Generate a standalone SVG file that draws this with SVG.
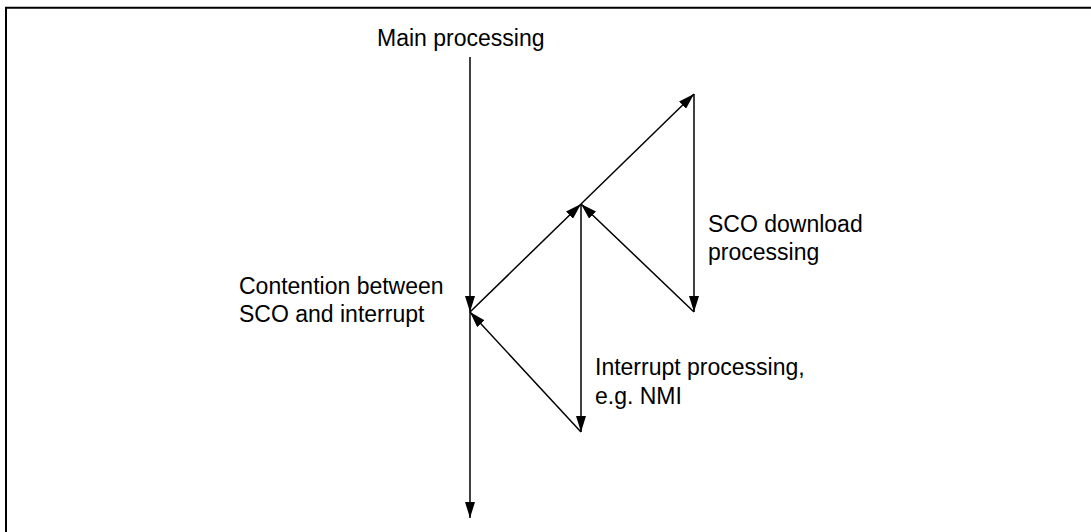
<svg xmlns="http://www.w3.org/2000/svg" width="1091" height="532" viewBox="0 0 1091 532">
  <style>
    .lbl { font-family: "Liberation Sans", Arial, sans-serif; font-size: 23px; fill: #000; }
    .ln { stroke: #000; stroke-width: 1.5; fill: none; marker-end: url(#ah); }
    .frame { stroke: #000; stroke-width: 2; fill: none; }
  </style>
  <defs>
    <marker id="ah" markerUnits="userSpaceOnUse" markerWidth="17" markerHeight="10" refX="16" refY="5" orient="auto">
      <path d="M0,0 L16,5 L0,10 z" fill="#000"/>
    </marker>
  </defs>
  <rect width="1091" height="532" fill="#fff"/>
  <path class="frame" d="M6,532 V7.7 H1091"/>

  <g id="main-processing">
    <text class="lbl" x="377" y="46">Main processing</text>
  </g>
  <g id="contention">
    <text class="lbl" x="239" y="294">Contention between</text>
    <text class="lbl" x="239" y="322">SCO and interrupt</text>
  </g>
  <g id="sco-download">
    <text class="lbl" x="708" y="232">SCO download</text>
    <text class="lbl" x="708" y="260">processing</text>
  </g>
  <g id="interrupt-processing">
    <text class="lbl" x="595" y="375">Interrupt processing,</text>
    <text class="lbl" x="595" y="404">e.g. NMI</text>
  </g>

  <g id="connectors">
    <line class="ln" x1="470" y1="57" x2="470" y2="312"/>
    <line class="ln" x1="470" y1="312" x2="470" y2="518"/>
    <line class="ln" x1="470" y1="312" x2="581" y2="204"/>
    <line class="ln" x1="581" y1="204" x2="694" y2="94"/>
    <line class="ln" x1="694" y1="94" x2="694" y2="312"/>
    <line class="ln" x1="694" y1="312" x2="581" y2="204"/>
    <line class="ln" x1="581" y1="204" x2="581" y2="432"/>
    <line class="ln" x1="581" y1="432" x2="470" y2="312"/>
  </g>
</svg>
